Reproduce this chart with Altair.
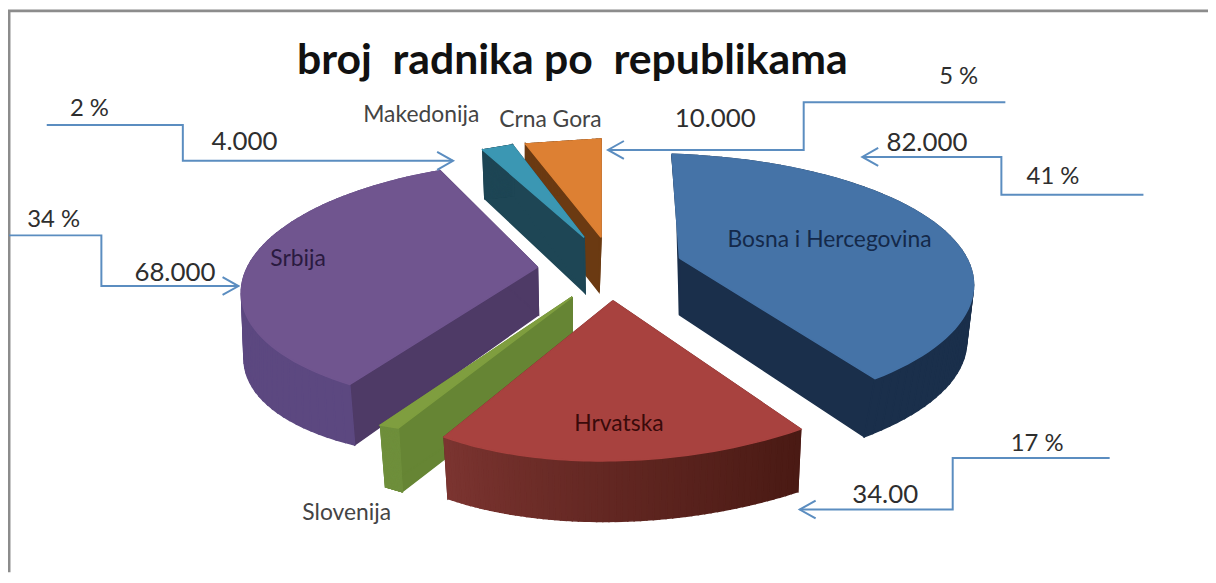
import numpy as np
import pandas as pd
import altair as alt

# ---- values -----------------------------------------------------------
republics = ["Bosna i Hercegovina", "Hrvatska", "Slovenija", "Srbija", "Makedonija", "Crna Gora"]
workers = [82000, 34000, 2000, 68000, 4000, 10000]
title_text = "broj\u00a0\u00a0radnika po\u00a0\u00a0republikama"
value_labels = ["82.000", "34.00", "68.000", "4.000", "10.000"]
percent_labels = ["41 %", "17 %", "34 %", "2 %", "5 %"]

# ---- 3-D look: where each wedge's plane lands on the page --------------
# per slice: centre, start-edge, end-edge, mid-arc for top and for bottom face;
# "ell" (cx, cy, rx, ry) replaces the mid-arc point when the rim is a plain ellipse
LOOK = {
    "Bosna i Hercegovina": dict(
        top=[(684, 258), (676, 155), (875, 377), None], ell_top=(650, 285, 330, 132),
        bot=[(684, 315), (680, 215), (868, 437), None], ell_bot=(643, 342, 330, 132),
        c_top="#4573A7", c_side="#1A2F4B", c_a="#1A2F4B", c_b="#1A2F4B"),
    "Hrvatska": dict(
        top=[(617, 301), (806, 430), (447, 438), (613, 462)],
        bot=[(617, 360), (803, 493), (451, 500), (613, 523)],
        c_top="#A8423F", c_side="#5A2420", c_a="#4A1A14", c_b="#7B3430"),
    "Slovenija": dict(
        top=[(576, 297), (401, 429), (383, 426), None],
        bot=[(576, 361), (405, 493), (388, 488), None],
        c_top="#7F9E3F", c_side="#668534", c_a="#6F8F3C", c_b="#6F8F3C"),
    "Srbija": dict(
        top=[(541, 267), (352, 385), (443, 170), (252, 262)],
        bot=[(542, 315), (357, 446), (448, 231), (258, 323)],
        c_top="#70558F", c_side="#4E3A66", c_a="#5C4880", c_b="#5C4880"),
    "Makedonija": dict(
        top=[(588, 237), (486, 149), (516, 144), None],
        bot=[(589, 293), (488, 198), (517, 195), None],
        c_top="#3B97B3", c_side="#1E4655", c_a="#1E4655", c_b="#1E4655"),
    "Crna Gora": dict(
        top=[(605, 237), (529, 143), (605, 138), None],
        bot=[(603, 292), (529, 197), (603, 190), None],
        c_top="#DD8033", c_side="#6B3A12", c_a="#6B3A12", c_b="#6B3A12"),
}
DRAW_ORDER = ["Crna Gora", "Makedonija", "Bosna i Hercegovina", "Srbija", "Slovenija", "Hrvatska"]


def homography(src, dst):
    A, b = [], []
    for (X, Y), (x, y) in zip(src, dst):
        A.append([X, Y, 1, 0, 0, 0, -x * X, -x * Y]); b.append(x)
        A.append([0, 0, 0, X, Y, 1, -y * X, -y * Y]); b.append(y)
    h = np.linalg.solve(np.array(A, float), np.array(b, float))
    return np.append(h, 1).reshape(3, 3)


def arc_points(corners, t0, t1, n, ell=None):
    ts = np.linspace(t0, t1, n)
    if ell is not None:
        cx, cy, rx, ry = ell
        p0 = np.arctan2((corners[1][0] - cx) / rx, -(corners[1][1] - cy) / ry)
        p1 = np.arctan2((corners[2][0] - cx) / rx, -(corners[2][1] - cy) / ry)
        ph = np.linspace(p0, p1, n)
        return np.column_stack([cx + rx * np.sin(ph), cy - ry * np.cos(ph)])
    if corners[3] is None:
        a, b = np.array(corners[1], float), np.array(corners[2], float)
        f = (ts - t0) / (t1 - t0)
        return a + np.outer(f, b - a)
    tm = (t0 + t1) / 2
    src = [(0, 0), (np.sin(t0), np.cos(t0)), (np.sin(t1), np.cos(t1)), (np.sin(tm), np.cos(tm))]
    H = homography(src, corners)
    p = H @ np.vstack([np.sin(ts), np.cos(ts), np.ones(n)])
    return (p[:2] / p[2]).T


def mix(c1, c2, f):
    a = [int(c1[i:i + 2], 16) for i in (1, 3, 5)]
    b = [int(c2[i:i + 2], 16) for i in (1, 3, 5)]
    return "#%02x%02x%02x" % tuple(int(round(u + (v - u) * f)) for u, v in zip(a, b))


# wedge angles come from the values
total = sum(workers)
angles, acc = {}, 0.0
for name, v in zip(republics, workers):
    angles[name] = (acc / total * 2 * np.pi, (acc + v) / total * 2 * np.pi)
    acc += v

rows = []
pid = 0


def add_poly(points, color):
    global pid
    pts = [tuple(p) for p in points]
    pts.append(pts[0])
    for i, (x, y) in enumerate(pts):
        rows.append(dict(piece=f"p{pid:04d}", i=i, x=float(x), y=float(y), color=color))
    pid += 1


for name in DRAW_ORDER:
    L = LOOK[name]
    t0, t1 = angles[name]
    n = 61
    top = arc_points(L["top"], t0, t1, n, L.get("ell_top"))
    bot = arc_points(L["bot"], t0, t1, n, L.get("ell_bot"))
    ct, cb = L["top"][0], L["bot"][0]
    add_poly([ct, top[0], bot[0], cb], L["c_side"])
    add_poly([ct, top[-1], bot[-1], cb], L["c_side"])
    for k in range(n - 1):
        add_poly([top[k], top[k + 1], bot[k + 1], bot[k]], mix(L["c_a"], L["c_b"], k / (n - 2)))
    add_poly([tuple(ct)] + [tuple(p) for p in top], L["c_top"])

pieces = pd.DataFrame(rows)

# ---- scales: data units equal page pixels --------------------------------
X = alt.X("x:Q", scale=alt.Scale(domain=[8, 1216], range=[0, 1208]), axis=None)
Y = alt.Y("y:Q", scale=alt.Scale(domain=[8, 574], range=[0, 566]), axis=None)

wedges = alt.Chart(pieces).mark_line(strokeWidth=1.5, opacity=1, clip=False, interpolate="linear").encode(
    x=X, y=Y, order="i:Q", detail="piece:N",
    fill=alt.Fill("color:N", scale=None, legend=None),
    stroke=alt.Stroke("color:N", scale=None, legend=None),
)

# ---- leader lines ---------------------------------------------------------
leaders = [
    [(1012, 101), (809, 101), (809, 149), (612, 149)],
    [(1151, 194), (1008, 194), (1008, 156), (868, 156)],
    [(1117, 459), (959, 459), (959, 511), (805, 511)],
    [(47, 124), (184, 124), (184, 160), (456, 160)],
    [(9, 235), (102, 235), (102, 286), (240, 286)],
]
lrows = []
for li, pts in enumerate(leaders):
    for i, (x, y) in enumerate(pts):
        lrows.append(dict(l=f"L{li}", i=i, x=x, y=y))
    (x1, y1), (x2, y2) = pts[-2], pts[-1]
    sgn = 1 if x1 > x2 else -1
    for i, (x, y) in enumerate([(x2 + sgn * 16, y2 - 9), (x2, y2), (x2 + sgn * 16, y2 + 9)]):
        lrows.append(dict(l=f"H{li}", i=i, x=x, y=y))
lead = alt.Chart(pd.DataFrame(lrows)).mark_line(color="#5B8DC0", strokeWidth=2, clip=False).encode(
    x=X, y=Y, order="i:Q", detail="l:N")

# ---- frame ------------------------------------------------------------------
frame = alt.Chart(pd.DataFrame(
    dict(l=["f"] * 3, i=[0, 1, 2], x=[9, 9, 1216], y=[574, 9, 9]))
).mark_line(color="#8C8C8C", strokeWidth=3, clip=False).encode(x=X, y=Y, order="i:Q", detail="l:N")

# ---- text -------------------------------------------------------------------
FONT = "Lato"
DARK = "#2E2E2E"
texts = [
    (title_text, 576, 60, 43, "bold", "#111111"),
    (percent_labels[4], 965, 76, 24, "normal", DARK),
    (value_labels[4], 720, 118, 26, "normal", DARK),
    (value_labels[0], 933, 142, 26, "normal", DARK),
    (percent_labels[0], 1060, 176, 24, "normal", DARK),
    (percent_labels[1], 1044, 445, 24, "normal", DARK),
    (value_labels[1], 891, 496, 26, "normal", DARK),
    (percent_labels[3], 90, 108, 24, "normal", DARK),
    (value_labels[3], 246, 141, 26, "normal", DARK),
    (percent_labels[2], 54, 220, 24, "normal", DARK),
    (value_labels[2], 176, 273, 26, "normal", DARK),
    (republics[4], 424, 114, 23, "normal", "#444444"),
    (republics[5], 554, 119, 23, "normal", "#444444"),
    (republics[0], 835, 240, 23, "normal", "#14294A"),
    (republics[3], 300, 259, 23, "normal", "#2A1A40"),
    (republics[1], 623, 425, 23, "normal", "#3A0A0A"),
    (republics[2], 349, 515, 23, "normal", "#444444"),
]
tdf = pd.DataFrame(texts, columns=["t", "x", "y", "size", "weight", "color"])
label_layers = []
for (size, weight), g in tdf.groupby(["size", "weight"]):
    label_layers.append(
        alt.Chart(g).mark_text(font=FONT, fontSize=int(size), fontWeight=weight, align="center",
                               baseline="middle", clip=False).encode(
            x=X, y=Y, text="t:N", color=alt.Color("color:N", scale=None, legend=None))
    )

chart = alt.layer(frame, wedges, lead, *label_layers).properties(
    width=1208, height=566, padding=0,
    autosize=alt.AutoSizeParams(type="none"),
).configure_view(stroke=None).resolve_scale(color="independent")

chart.save("out.html", embed_options={"renderer": "svg", "actions": False})
